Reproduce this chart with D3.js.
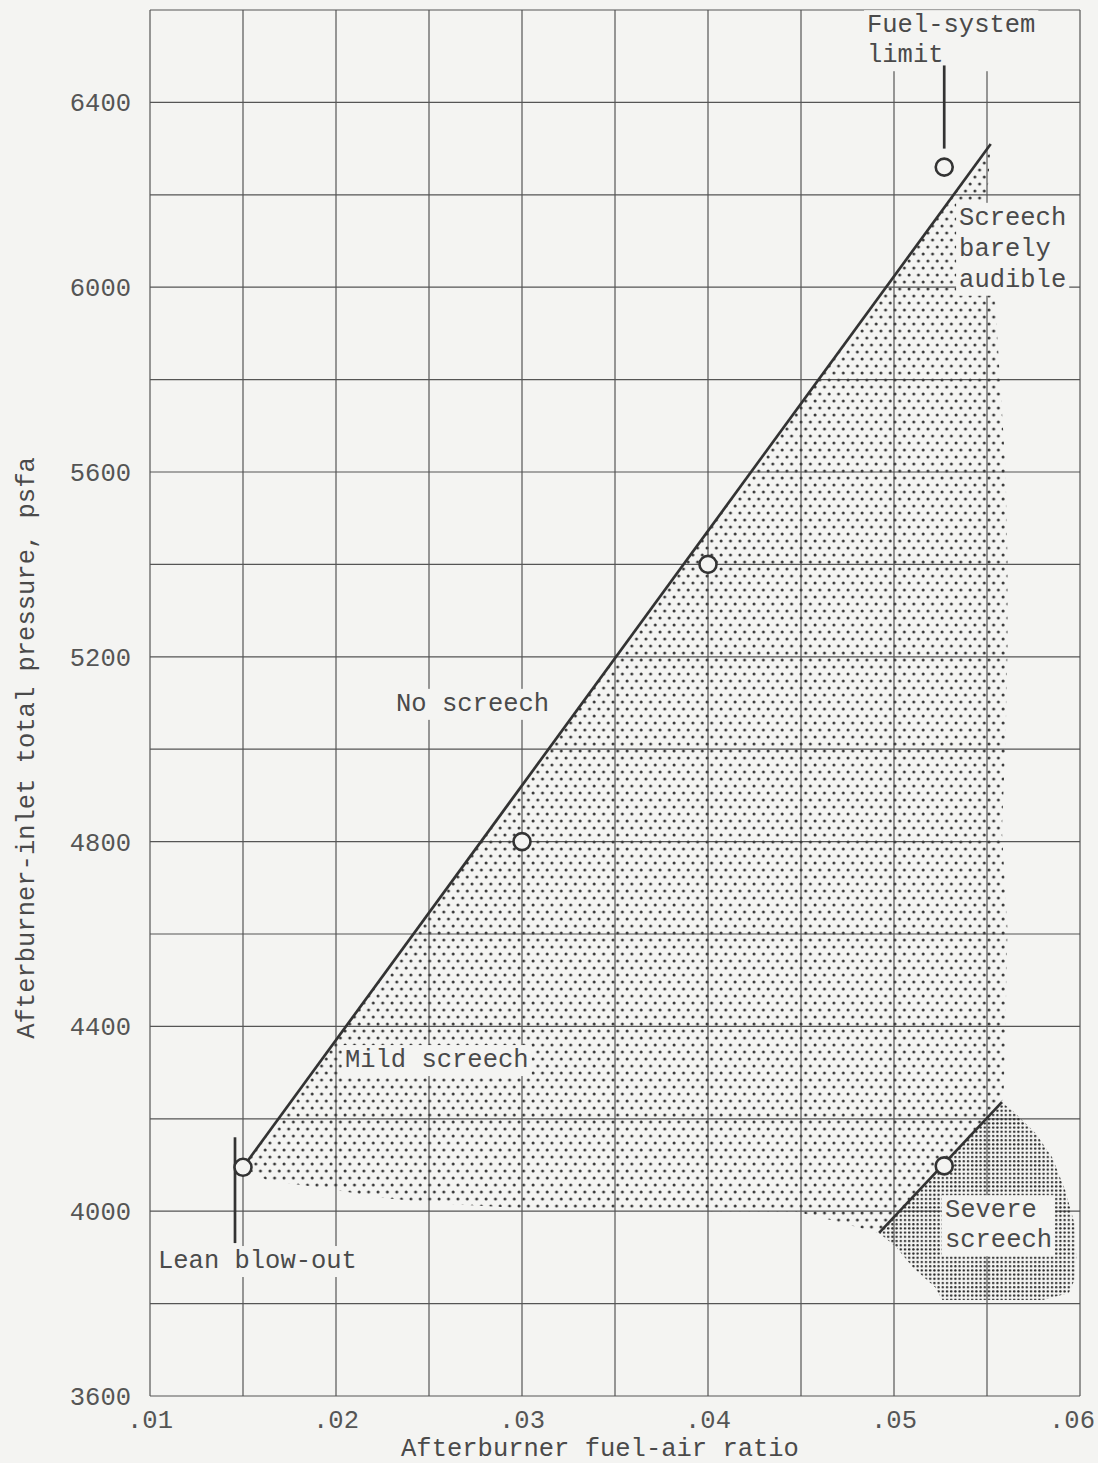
<!DOCTYPE html>
<html>
<head>
<meta charset="UTF-8">
<title>Afterburner screech limits</title>
<script src="https://d3js.org/d3.v7.min.js"></script>
<style>
  body { margin: 0; background: #f4f4f2; }
  text { font-family: "Liberation Mono", "DejaVu Sans Mono", monospace; }
</style>
</head>
<body>
<svg id="chart" width="1098" height="1463"></svg>
<script>
// axis ticks
var xTicks = [0.01, 0.02, 0.03, 0.04, 0.05, 0.06];
var xTickLabels = [".01", ".02", ".03", ".04", ".05", ".06"];
var yTicks = [3600, 4000, 4400, 4800, 5200, 5600, 6000, 6400];

// boundary between no screech and mild screech
var boundaryLine = [[0.0150, 4095], [0.0552, 6310]];
// boundary between mild and severe screech
var severeLine = [[0.0492, 3953], [0.0558, 4236]];
// lean blow-out and fuel-system limit markers
var leanBlowOut = [[0.01457, 4160], [0.01457, 3931]];
var fuelLimit = [[0.0527, 6480], [0.0527, 6300]];

// measured points (fuel-air ratio, pressure)
var points = [[0.0150, 4095], [0.0300, 4800], [0.0400, 5400], [0.0527, 6260], [0.0527, 4098]];

// right edge of mild screech region (top to bottom)
var mildRightEdge = [[0.0550, 6189], [0.0554, 5994], [0.0557, 5799], [0.0560, 5604],
  [0.0561, 5410], [0.0561, 5215], [0.0560, 5020], [0.0558, 4825], [0.0561, 4609],
  [0.0560, 4414], [0.0559, 4262]];
// bottom edge of mild screech region (right to left)
var mildBottomEdge = [[0.0466, 3981], [0.0448, 3998], [0.0396, 4000], [0.0342, 4003],
  [0.0297, 4007], [0.0252, 4018], [0.0225, 4029], [0.0193, 4050], [0.0163, 4067]];
// outline of severe screech region (clockwise from line top)
var severeEdge = [[0.0565, 4213], [0.0576, 4169], [0.0585, 4117], [0.0592, 4046],
  [0.0597, 3974], [0.0598, 3901], [0.0597, 3851], [0.0594, 3823], [0.0580, 3808],
  [0.0526, 3808], [0.0522, 3836], [0.0510, 3879], [0.0501, 3923]];

// annotations: lines of text, left x and first baseline in data units
var labels = [
  {lines: ["Fuel-system", "limit"], x: 0.04855, y: 6552, step: 65},
  {lines: ["Screech", "barely", "audible"], x: 0.0535, y: 6135, step: 67},
  {lines: ["No screech"], x: 0.02323, y: 5083, step: 0},
  {lines: ["Mild screech"], x: 0.02048, y: 4312, step: 0},
  {lines: ["Lean blow-out"], x: 0.01043, y: 3877, step: 0},
  {lines: ["Severe", "screech"], x: 0.05274, y: 3987, step: 65}
];

var svg = d3.select("#chart");
var bg = "#f4f4f2", ink = "#333", textInk = "#4a4a4a";

var x = d3.scaleLinear().domain([0.01, 0.06]).range([150, 1080]);
var y = d3.scaleLinear().domain([3600, 6600]).range([1396, 10]);

svg.append("rect").attr("width", 1098).attr("height", 1463).attr("fill", bg);

// dot patterns
var defs = svg.append("defs");
var light = defs.append("pattern").attr("id", "mild")
    .attr("patternUnits", "userSpaceOnUse").attr("width", 9.4).attr("height", 14);
light.append("circle").attr("cx", 2).attr("cy", 2).attr("r", 1.5).attr("fill", "#3a3a3a");
light.append("circle").attr("cx", 6.7).attr("cy", 9).attr("r", 1.5).attr("fill", "#3a3a3a");
var dense = defs.append("pattern").attr("id", "severe")
    .attr("patternUnits", "userSpaceOnUse").attr("width", 4.2).attr("height", 4.2);
dense.append("circle").attr("cx", 2).attr("cy", 2).attr("r", 1.2).attr("fill", "#2e2e2e");

var line = d3.line().x(function(d){ return x(d[0]); }).y(function(d){ return y(d[1]); });

// grid
var xGrid = d3.range(0, 11).map(function(i){ return 0.01 + i * 0.005; });
var yGrid = d3.range(0, 16).map(function(i){ return 3600 + i * 200; });
var grid = svg.append("g").attr("stroke", "#555").attr("stroke-width", 1.2);
grid.selectAll("line.v").data(xGrid).enter().append("line")
    .attr("x1", function(d){ return x(d); }).attr("x2", function(d){ return x(d); })
    .attr("y1", y(3600)).attr("y2", y(6600));
grid.selectAll("line.h").data(yGrid).enter().append("line")
    .attr("y1", function(d){ return y(d); }).attr("y2", function(d){ return y(d); })
    .attr("x1", x(0.01)).attr("x2", x(0.06));

// shaded regions
var mildPoly = [boundaryLine[0], boundaryLine[1]]
  .concat(mildRightEdge)
  .concat([severeLine[1], severeLine[0]])
  .concat(mildBottomEdge);
svg.append("path").datum(mildPoly).attr("d", function(d){ return line(d) + "Z"; })
    .attr("fill", "url(#mild)");
var severePoly = [severeLine[1]].concat(severeEdge).concat([severeLine[0]]);
svg.append("path").datum(severePoly).attr("d", function(d){ return line(d) + "Z"; })
    .attr("fill", "url(#severe)");

// labels with background boxes
labels.forEach(function(l){
  var g = svg.append("g");
  var t = g.append("text").attr("font-size", 25.5).attr("fill", textInk);
  l.lines.forEach(function(s, i){
    t.append("tspan").attr("x", x(l.x))
      .attr("y", y(l.y - i * l.step)).text(s);
  });
  var b = t.node().getBBox();
  g.insert("rect", "text").attr("x", b.x - 3).attr("y", b.y - 1)
    .attr("width", b.width + 6).attr("height", b.height + 2).attr("fill", bg);
});

// curves
[boundaryLine, severeLine, leanBlowOut, fuelLimit].forEach(function(d){
  svg.append("path").datum(d).attr("d", line)
    .attr("fill", "none").attr("stroke", ink).attr("stroke-width", 2.7);
});

svg.selectAll("circle.pt").data(points).enter().append("circle")
    .attr("cx", function(d){ return x(d[0]); })
    .attr("cy", function(d){ return y(d[1]); })
    .attr("r", 8.5).attr("fill", bg).attr("stroke", ink).attr("stroke-width", 2.6);

// tick labels
svg.append("g").selectAll("text").data(xTicks).enter().append("text")
    .attr("x", function(d){ return Math.min(x(d), 1072); }).attr("y", 1428)
    .attr("text-anchor", "middle").attr("font-size", 25.5).attr("fill", "#555")
    .text(function(d, i){ return xTickLabels[i]; });
svg.append("g").selectAll("text").data(yTicks).enter().append("text")
    .attr("x", 131).attr("y", function(d){ return y(d) + 9; })
    .attr("text-anchor", "end").attr("font-size", 25.5).attr("fill", "#555")
    .text(function(d){ return d; });

// axis titles
svg.append("text").attr("x", 600).attr("y", 1456).attr("text-anchor", "middle")
    .attr("font-size", 25.5).attr("fill", textInk).text("Afterburner fuel-air ratio");
svg.append("text").attr("transform", "translate(34,748) rotate(-90)")
    .attr("text-anchor", "middle").attr("font-size", 25.5).attr("fill", textInk)
    .text("Afterburner-inlet total pressure, psfa");
</script>
</body>
</html>
